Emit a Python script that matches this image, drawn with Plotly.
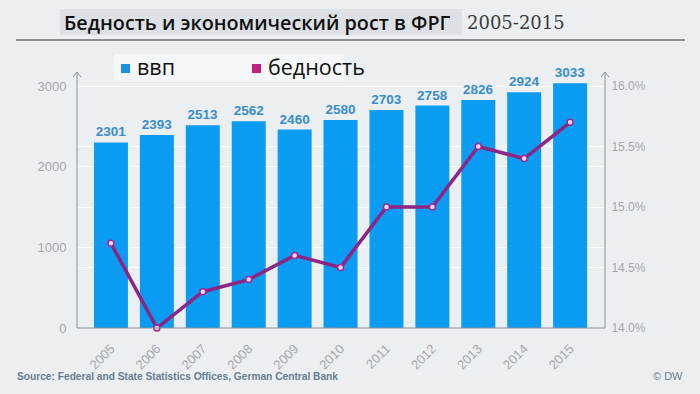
import plotly.graph_objects as go

years = ["2005", "2006", "2007", "2008", "2009", "2010", "2011", "2012", "2013", "2014", "2015"]
gdp = [2301, 2393, 2513, 2562, 2460, 2580, 2703, 2758, 2826, 2924, 3033]
poverty = [14.7, 14.0, 14.3, 14.4, 14.6, 14.5, 15.0, 15.0, 15.5, 15.4, 15.7]
left_ticks = [0, 1000, 2000, 3000]
right_ticks = [14.0, 14.5, 15.0, 15.5, 16.0]

W, H = 700, 394
L, R, T, B = 77, 95, 82, 66
ph = H - T - B

fig = go.Figure()
fig.add_trace(go.Bar(
    x=years, y=gdp, marker=dict(color="#0a9bf2", line=dict(width=0)),
    text=[f"<b>{v}</b>" for v in gdp], textposition="outside", cliponaxis=False,
    textfont=dict(family="Liberation Sans Narrow, Arial Narrow, sans-serif", size=13.5, color="#3a8dc8"),
    width=0.74, showlegend=False, yaxis="y"))
fig.add_trace(go.Scatter(
    x=years, y=poverty, mode="lines+markers", yaxis="y2", showlegend=False,
    line=dict(color="#8e2483", width=3.5),
    marker=dict(size=6, color="#f5d8ef", line=dict(color="#a02890", width=1.5)),
    cliponaxis=False))

grid = "rgba(255,255,255,0.95)"
fig.update_layout(
    width=W, height=H, margin=dict(l=L, r=R, t=T, b=B),
    paper_bgcolor="#eceff2", plot_bgcolor="rgba(0,0,0,0)",
    xaxis=dict(range=[-0.74, 10.76], tickangle=-45, showgrid=False, showline=False,
               ticks="outside", ticklen=7, tickcolor="rgba(0,0,0,0)",
               tickfont=dict(family="Liberation Sans Narrow, Arial Narrow, sans-serif", size=13, color="#a4a8ad")),
    yaxis=dict(range=[0, 3000 * ph / 242], tickvals=left_ticks, showgrid=True, gridcolor=grid,
               gridwidth=1, zeroline=False, showline=False,
               ticks="outside", ticklen=7, tickcolor="rgba(0,0,0,0)",
               tickfont=dict(family="Liberation Sans Narrow, Arial Narrow, sans-serif", size=13, color="#a4a8ad")),
    yaxis2=dict(range=[14, 14 + 2 * ph / 242], tickvals=right_ticks, ticktext=[f"{v:.1f}%" for v in right_ticks],
                overlaying="y", side="right", showgrid=True, gridcolor=grid, gridwidth=1,
                zeroline=False, showline=False,
                ticks="outside", ticklen=3, tickcolor="rgba(0,0,0,0)",
                tickfont=dict(family="Liberation Sans, Arial, sans-serif", size=12, color="#a4a8ad")),
    font=dict(family="Liberation Sans, Arial, sans-serif"),
)

def px(x):
    return (x - L) / (W - L - R)

def py(y):
    return (H - B - y) / ph

axc = "#8a9096"
shapes = [
    # title box
    dict(type="rect", xref="paper", yref="paper", x0=px(60), x1=px(462), y0=py(35), y1=py(9),
         fillcolor="#dde1e5", line=dict(width=0), layer="below"),
    # title rule
    dict(type="line", xref="paper", yref="paper", x0=px(16), x1=px(685), y0=py(40), y1=py(40),
         line=dict(color="#2a2a2a", width=1)),
    # legend box
    dict(type="rect", xref="paper", yref="paper", x0=px(114), x1=px(344), y0=py(81), y1=py(54),
         fillcolor="rgba(255,255,255,0.45)", line=dict(width=0), layer="below"),
    # legend squares
    dict(type="rect", xref="paper", yref="paper", x0=px(121), x1=px(130), y0=py(73), y1=py(64),
         fillcolor="#1a90e0", line=dict(width=0)),
    dict(type="rect", xref="paper", yref="paper", x0=px(252), x1=px(261), y0=py(73), y1=py(64),
         fillcolor="#c2237a", line=dict(width=0)),
    # axes lines
    dict(type="line", xref="paper", yref="paper", x0=0, x1=1, y0=0, y1=0, line=dict(color=axc, width=1)),
    dict(type="line", xref="paper", yref="paper", x0=0, x1=0, y0=0, y1=py(72), line=dict(color=axc, width=1)),
    dict(type="line", xref="paper", yref="paper", x0=1, x1=1, y0=0, y1=py(72), line=dict(color=axc, width=1)),
    # arrowheads
    dict(type="line", xref="paper", yref="paper", x0=px(73), x1=px(77), y0=py(77), y1=py(72), line=dict(color=axc, width=1)),
    dict(type="line", xref="paper", yref="paper", x0=px(81), x1=px(77), y0=py(77), y1=py(72), line=dict(color=axc, width=1)),
    dict(type="line", xref="paper", yref="paper", x0=px(601), x1=px(605), y0=py(77), y1=py(72), line=dict(color=axc, width=1)),
    dict(type="line", xref="paper", yref="paper", x0=px(609), x1=px(605), y0=py(77), y1=py(72), line=dict(color=axc, width=1)),
]
fig.update_layout(shapes=shapes)

ann = [
    dict(text="Бедность и экономический рост в ФРГ", x=px(62), y=py(22), xanchor="left", yanchor="middle",
         font=dict(family="Open Sans, sans-serif", size=19.8, weight=600, color="#111111")),
    dict(text="2005-2015", x=px(465), y=py(22), xanchor="left", yanchor="middle",
         font=dict(family="DejaVu Serif, Liberation Serif, serif", size=18, color="#3c3c3c")),
    dict(text="ввп", x=px(135), y=py(67), xanchor="left", yanchor="middle",
         font=dict(family="Open Sans, sans-serif", size=21.5, color="#111111")),
    dict(text="бедность", x=px(266), y=py(67), xanchor="left", yanchor="middle",
         font=dict(family="Open Sans, sans-serif", size=21.5, color="#111111")),
    dict(text="<b>Source: Federal and State Statistics Offices, German Central Bank</b>", x=px(15), y=py(376),
         xanchor="left", yanchor="middle",
         font=dict(family="Liberation Sans Narrow, Arial Narrow, sans-serif", size=10.2, color="#6a7c8e")),
    dict(text="© DW", x=px(685), y=py(376), xanchor="right", yanchor="middle",
         font=dict(family="Liberation Sans Narrow, Arial Narrow, sans-serif", size=11, color="#6a7c8e")),
]
for a in ann:
    a.update(xref="paper", yref="paper", showarrow=False)
fig.update_layout(annotations=ann)

fig.write_html("out.html", config={"displayModeBar": False},
               post_script="document.body.style.margin='0';")
